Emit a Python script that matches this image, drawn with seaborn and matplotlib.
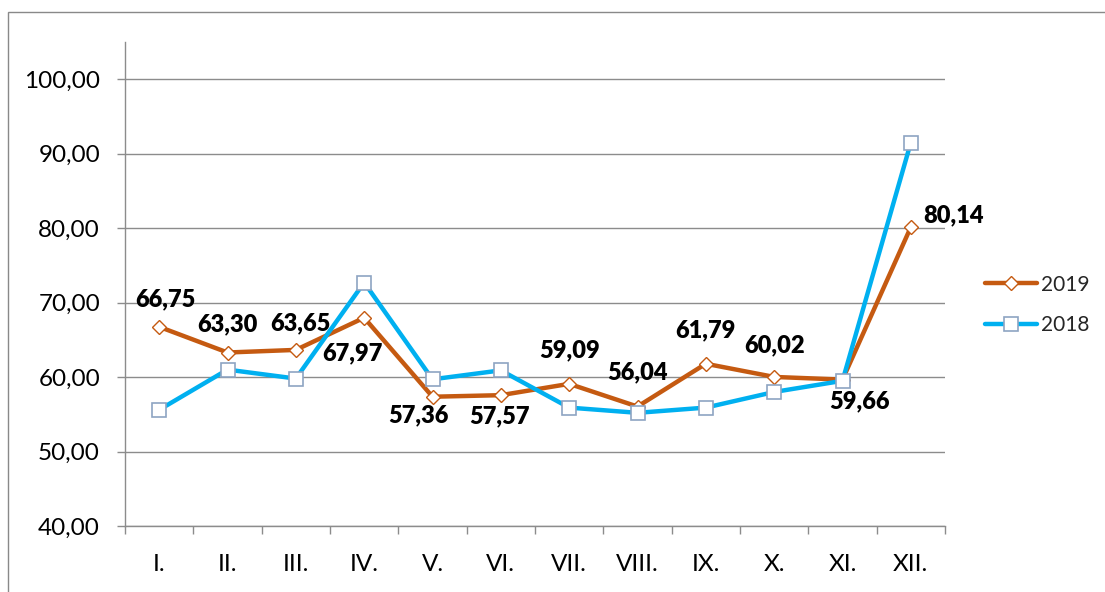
import numpy as np
import pandas as pd
import matplotlib
matplotlib.use('Agg')
import matplotlib.pyplot as plt
import matplotlib.patches as mpatches
from matplotlib.ticker import FuncFormatter
import seaborn as sns

# chart data
months = ['I.', 'II.', 'III.', 'IV.', 'V.', 'VI.', 'VII.', 'VIII.', 'IX.', 'X.', 'XI.', 'XII.']
values_2019 = [66.75, 63.30, 63.65, 67.97, 57.36, 57.57, 59.09, 56.04, 61.79, 60.02, 59.66, 80.14]
values_2018 = [55.6, 61.0, 59.8, 72.7, 59.7, 60.9, 55.9, 55.2, 55.9, 58.0, 59.5, 91.5]
yticks = [40, 50, 60, 70, 80, 90, 100]

# label offsets in pixels (dx, dy) for the 2019 value labels
label_offsets = [(6, 28), (0, 28), (5, 27), (-12, -36), (-14, -19), (-1, -21),
                 (0, 34), (0, 34), (0, 33), (0, 32), (17, -22), (43, 12)]

sns.set_style('white')
plt.rcParams['font.family'] = ['Lato', 'DejaVu Sans']

ORANGE = '#C55A11'
BLUE = '#00B0F0'
GRID = '#8C8C8C'

df = pd.DataFrame({'month': months, '2019': values_2019, '2018': values_2018})

fig = plt.figure(figsize=(11.05, 5.92), dpi=100)
ax = fig.add_axes([125 / 1105, 1 - 526 / 592, (945 - 125) / 1105, (526 - 42) / 592])

sns.lineplot(data=df, x='month', y='2019', sort=False, ax=ax, color=ORANGE, lw=3.2,
             marker='D', markersize=6.8, markerfacecolor='white',
             markeredgecolor=ORANGE, markeredgewidth=1, label='2019', zorder=3)
sns.lineplot(data=df, x='month', y='2018', sort=False, ax=ax, color=BLUE, lw=3.2,
             marker='s', markersize=9.5, markerfacecolor='white',
             markeredgecolor='#8EA4C2', markeredgewidth=1.2, label='2018', zorder=4)

for i, v in enumerate(values_2019):
    dx, dy = label_offsets[i]
    ax.annotate(f"{v:.2f}".replace('.', ','), (i, v), xytext=(dx, dy),
                textcoords='offset pixels', ha='center', va='center',
                fontsize=17, fontweight='heavy', color='black', zorder=5)

ax.set_ylim(40, 105)
ax.set_xlim(-0.5, 11.5)
ax.set_yticks(yticks)
ax.yaxis.set_major_formatter(FuncFormatter(lambda v, p: f"{v:.2f}".replace('.', ',')))
ax.set_xticks(range(len(months)))
ax.set_xticklabels(months)
ax.set_xticks(np.arange(-0.5, 12, 1), minor=True)
ax.set_xlabel('')
ax.set_ylabel('')

ax.grid(axis='y', color=GRID, lw=1)
ax.set_axisbelow(True)
for s in ['top', 'right']:
    ax.spines[s].set_visible(False)
for s in ['left', 'bottom']:
    ax.spines[s].set_color(GRID)
    ax.spines[s].set_linewidth(1)

ax.tick_params(axis='y', which='major', direction='out', length=6, width=1,
               color=GRID, labelsize=17.5, labelcolor='black', pad=12, left=True)
ax.tick_params(axis='x', which='major', length=0, labelsize=17.5, labelcolor='black', pad=20)
ax.tick_params(axis='x', which='minor', direction='out', length=6, width=1,
               color=GRID, bottom=True)

ax.get_legend().remove()
handles, labels = ax.get_legend_handles_labels()
fig.legend(handles, labels, loc='center left', bbox_to_anchor=(985 / 1105, 1 - 305 / 592),
           frameon=False, fontsize=15, handlelength=2.5, handletextpad=0.2,
           borderpad=0, borderaxespad=0, labelspacing=1.0)

# outer chart frame
frame = mpatches.Rectangle((8 / 1105, -0.1), 1.1, 1.1 - 12 / 592, transform=fig.transFigure,
                           fill=False, edgecolor='#898989', lw=1, clip_on=False)
fig.patches.append(frame)

fig.savefig('out.png', dpi=100)
